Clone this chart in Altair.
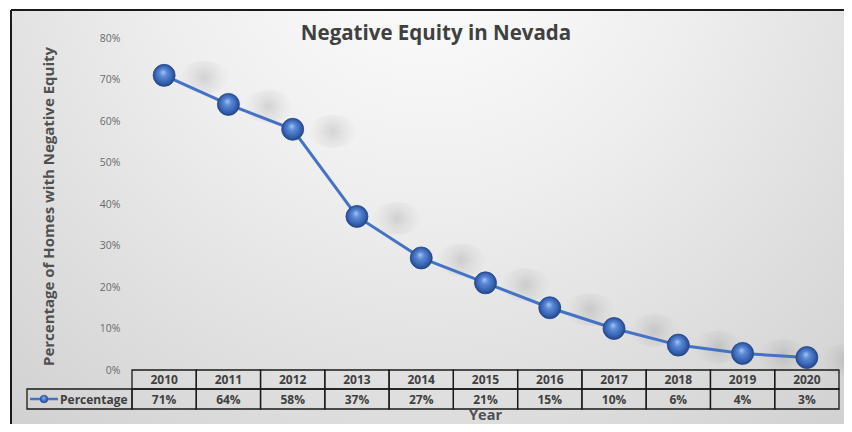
import altair as alt
import pandas as pd

# ---- data ----
years = ["2010", "2011", "2012", "2013", "2014", "2015", "2016", "2017", "2018", "2019", "2020"]
pct = [0.71, 0.64, 0.58, 0.37, 0.27, 0.21, 0.15, 0.10, 0.06, 0.04, 0.03]
y_ticks = [0, 0.1, 0.2, 0.3, 0.4, 0.5, 0.6, 0.7, 0.8]
series_name = "Percentage"
chart_title = "Negative Equity in Nevada"
y_title = "Percentage of Homes with Negative Equity"
x_title = "Year"

df = pd.DataFrame({"year": years, "pct": pct})

W, H = 707, 332
FONT = "Open Sans"
TXT = "#404040"
BLUE = "#4472C4"

x_scale = alt.Scale(type="band", domain=years, paddingInner=0, paddingOuter=0)
x_band = alt.X("year:N", scale=x_scale, axis=None)
x_mid = alt.X("year:N", scale=x_scale, axis=None, bandPosition=0.5)
y_enc = alt.Y(
    "pct:Q",
    scale=alt.Scale(domain=[0, 0.8], nice=False, zero=True),
    axis=alt.Axis(
        values=y_ticks, format="%", grid=False, domain=False, ticks=False,
        labelPadding=12, labelFont=FONT, labelFontSize=10.5, labelColor="#6a6a6a",
        title=y_title, titleFont=FONT, titleFontSize=15, titleFontWeight="bold",
        titleColor="#505050", titleX=-84, titleY=H / 2 + 2, titleBaseline="middle",
        titleAlign="center", zindex=2,
    ),
)

base = alt.Chart(df)
one = base.transform_filter("datum.year == '2010'")

bg_grad = {
    "gradient": "radial",
    "x1": 0.5, "y1": 0.15, "r1": 0.0,
    "x2": 0.5, "y2": 0.15, "r2": 0.95,
    "stops": [
        {"offset": 0.0, "color": "#ffffff"},
        {"offset": 0.35, "color": "#eeeeee"},
        {"offset": 1.0, "color": "#c6c6c6"},
    ],
}
background = one.mark_rect(fill=bg_grad, stroke=None).encode(
    x=alt.value(-121), x2=alt.value(712), y=alt.value(-28), y2=alt.value(386)
)

top_border = one.mark_rule(color="#1a1a1a", strokeWidth=2).encode(
    x=alt.value(-121), x2=alt.value(712), y=alt.value(-28)
)
left_border = one.mark_rule(color="#1a1a1a", strokeWidth=2).encode(
    x=alt.value(-121), y=alt.value(-28), y2=alt.value(386)
)

shadow_grad = {
    "gradient": "radial",
    "x1": 0.5, "y1": 0.5, "r1": 0.0,
    "x2": 0.5, "y2": 0.5, "r2": 0.5,
    "stops": [
        {"offset": 0.0, "color": "rgba(80,80,80,0.18)"},
        {"offset": 0.45, "color": "rgba(100,100,100,0.09)"},
        {"offset": 1.0, "color": "rgba(130,130,130,0)"},
    ],
}
ellipse = "M -1 0 A 1 0.65 0 1 1 1 0 A 1 0.65 0 1 1 -1 0 Z"
shadows = base.mark_point(
    shape=ellipse, filled=True, fill=shadow_grad, size=2500, opacity=1,
    strokeWidth=0, xOffset=40, yOffset=2,
).encode(x=x_mid, y=y_enc)

line = base.mark_line(color=BLUE, strokeWidth=3).encode(x=x_mid, y=y_enc)

sphere_grad = {
    "gradient": "radial",
    "x1": 0.45, "y1": 0.35, "r1": 0.0,
    "x2": 0.5, "y2": 0.5, "r2": 0.55,
    "stops": [
        {"offset": 0.0, "color": "#a9c7f4"},
        {"offset": 0.3, "color": "#5b8ad6"},
        {"offset": 0.7, "color": "#3763b4"},
        {"offset": 1.0, "color": "#1d3d78"},
    ],
}
points = base.mark_point(
    shape="circle", filled=True, fill=sphere_grad, size=484, opacity=1,
    stroke="#24488c", strokeWidth=0.8,
).encode(x=x_mid, y=y_enc)

# ---- data table ----
row1 = base.mark_rect(fill="#000000", fillOpacity=0, stroke="#1a1a1a", strokeWidth=1.3).encode(
    x=x_band, y=alt.value(332), y2=alt.value(351)
)
row2 = base.mark_rect(fill="#000000", fillOpacity=0, stroke="#1a1a1a", strokeWidth=1.3).encode(
    x=x_band, y=alt.value(351), y2=alt.value(371)
)
year_text = base.mark_text(font=FONT, fontSize=12, fontWeight="bold", color=TXT, baseline="middle").encode(
    x=x_mid, y=alt.value(341.5), text=alt.Text("year:N")
)
val_text = base.mark_text(font=FONT, fontSize=12, fontWeight="bold", color=TXT, baseline="middle").encode(
    x=x_mid, y=alt.value(361.5), text=alt.Text("pct:Q", format=".0%")
)

legend_cell = one.mark_rect(fill="#000000", fillOpacity=0, stroke="#1a1a1a", strokeWidth=1.3).encode(
    x=alt.value(-105), x2=alt.value(0), y=alt.value(351), y2=alt.value(371)
)
legend_line = one.mark_rule(color=BLUE, strokeWidth=2.5).encode(
    x=alt.value(-102), x2=alt.value(-74), y=alt.value(361)
)
legend_dot = one.mark_point(shape="circle", filled=True, fill=sphere_grad, size=60, opacity=1,
                            stroke="#24488c", strokeWidth=0.5).encode(
    x=alt.value(-88), y=alt.value(361)
)
legend_text = one.mark_text(font=FONT, fontSize=12, fontWeight="bold", color=TXT,
                            align="left", baseline="middle").encode(
    x=alt.value(-72), y=alt.value(361.5), text=alt.value(series_name)
)

year_label = one.mark_text(font=FONT, fontSize=14.5, fontWeight="bold", color="#505050",
                           align="center", baseline="alphabetic").encode(
    x=alt.value(W / 2), y=alt.value(382), text=alt.value(x_title)
)

title_text = one.mark_text(font=FONT, fontSize=20.5, fontWeight="bold", color=TXT,
                           align="center", baseline="alphabetic").encode(
    x=alt.value(304), y=alt.value(1.5), text=alt.value(chart_title)
)

chart = alt.layer(
    background, top_border, left_border, shadows, line, points,
    row1, row2, year_text, val_text,
    legend_cell, legend_line, legend_dot, legend_text, year_label, title_text,
).properties(
    width=W, height=H,
    autosize=alt.AutoSizeParams(type="none"),
    padding={"left": 124, "top": 30, "right": 5, "bottom": 54},
).configure_view(stroke=None).configure(background="#ffffff")

chart.save("out.html", embed_options={"renderer": "svg", "actions": False})
